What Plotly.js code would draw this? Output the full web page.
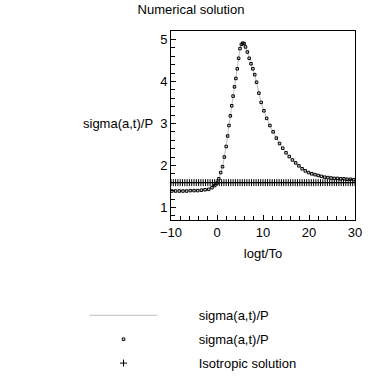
<!DOCTYPE html>
<html>
<head>
<meta charset="utf-8">
<script src="https://cdn.plot.ly/plotly-3.0.1.min.js"></script>
<style>html,body{margin:0;padding:0;background:#fff;}#chart{width:382px;height:382px;}</style>
</head>
<body>
<div id="chart"></div>
<script>
var sigmaX = [-9.8,-9.0,-8.2,-7.4,-6.6,-5.8,-5.0,-4.2,-3.4,-2.6,-1.8,-1.1,-0.5,0.0,0.4,0.8,1.2,1.6,2.0,2.3,2.6,2.9,3.2,3.5,3.8,4.1,4.4,4.7,5.0,5.3,5.6,5.9,6.2,6.6,7.0,7.4,7.8,8.2,8.6,9.1,9.6,10.2,10.8,11.5,12.2,12.9,13.6,14.3,15.0,15.7,16.4,17.1,17.8,18.5,19.2,19.9,20.6,21.3,22.0,22.7,23.4,24.1,24.8,25.5,26.2,26.9,27.6,28.3,29.0,29.7];
var sigmaY = [1.39,1.39,1.39,1.39,1.39,1.40,1.40,1.40,1.41,1.42,1.43,1.47,1.52,1.58,1.68,1.83,1.97,2.20,2.45,2.70,2.95,3.18,3.42,3.65,3.87,4.07,4.30,4.55,4.78,4.88,4.91,4.90,4.82,4.70,4.55,4.42,4.30,4.16,3.98,3.72,3.50,3.30,3.12,2.95,2.80,2.65,2.52,2.41,2.30,2.21,2.13,2.06,1.99,1.92,1.87,1.83,1.80,1.78,1.76,1.74,1.72,1.71,1.70,1.69,1.69,1.68,1.68,1.67,1.67,1.66];
var isoX = [-10,-9.5,-9,-8.5,-8,-7.5,-7,-6.5,-6,-5.5,-5,-4.5,-4,-3.5,-3,-2.5,-2,-1.5,-1,-0.5,0,0.5,1,1.5,2,2.5,3,3.5,4,4.5,5,5.5,6,6.5,7,7.5,8,8.5,9,9.5,10,10.5,11,11.5,12,12.5,13,13.5,14,14.5,15,15.5,16,16.5,17,17.5,18,18.5,19,19.5,20,20.5,21,21.5,22,22.5,23,23.5,24,24.5,25,25.5,26,26.5,27,27.5,28,28.5,29,29.5,30];
var isoValue = 1.59;
var isoY = isoX.map(function(){ return isoValue; });
var seriesNames = ['sigma(a,t)/P', 'sigma(a,t)/P', 'Isotropic solution'];
var titleText = 'Numerical solution';
var xTitle = 'logt/To';
var yTitle = 'sigma(a,t)/P';

var fontFam = 'Liberation Sans, Arial, sans-serif';
var pad = '\u00a0\u00a0\u00a0\u00a0\u00a0\u00a0\u00a0\u00a0\u00a0\u00a0';
var traces = [
  {x: sigmaX, y: sigmaY, mode: 'lines', name: pad + seriesNames[0], legendgroup: 'a',
   line: {color: '#c0c0c0', width: 1}},
  {x: sigmaX, y: sigmaY, mode: 'markers', name: pad + seriesNames[1], legendgroup: 'b',
   marker: {symbol: 'square-open', size: 2.5, color: '#000', line: {width: 1, color: '#000'}}},
  {x: isoX, y: isoY, mode: 'markers', name: pad + seriesNames[2], legendgroup: 'c',
   marker: {symbol: 'cross-thin-open', size: 5, color: '#000', line: {width: 1, color: '#000'}}}
];
var axisCommon = {
  showgrid: false, zeroline: false, showline: true, linecolor: '#000', linewidth: 1,
  mirror: true, ticks: 'inside', ticklen: 5, tickcolor: '#000', tickwidth: 1,
  tickfont: {family: fontFam, size: 13, color: '#000'}
};
var layout = {
  width: 382, height: 382,
  margin: {l: 171, r: 27, t: 31, b: 162, autoexpand: false},
  paper_bgcolor: '#fff', plot_bgcolor: '#fff',
  font: {family: fontFam, size: 13, color: '#000'},
  title: {text: titleText, x: 0.5, xanchor: 'center', y: 0.988, yanchor: 'top',
          font: {family: fontFam, size: 13, color: '#000'}},
  xaxis: Object.assign({}, axisCommon, {
    range: [-10, 30], dtick: 10, tick0: -10,
    minor: {dtick: 2, ticks: 'inside', ticklen: 4, tickcolor: '#000', showgrid: false},
    title: {text: xTitle, font: {family: fontFam, size: 13, color: '#000'}, standoff: 10}
  }),
  yaxis: Object.assign({}, axisCommon, {
    range: [0.7, 5.2], dtick: 1, tick0: 1,
    minor: {dtick: 0.2, ticks: 'inside', ticklen: 4, tickcolor: '#000', showgrid: false}
  }),
  annotations: [{
    text: yTitle, xref: 'paper', yref: 'y', x: -0.087, y: 3, xanchor: 'right', yanchor: 'middle',
    showarrow: false, font: {family: fontFam, size: 13, color: '#000'}
  }],
  showlegend: true,
  legend: {
    x: -0.47, xanchor: 'left', y: -0.425, yanchor: 'top',
    itemwidth: 68, tracegroupgap: 4,
    font: {family: fontFam, size: 13, color: '#000'},
    bgcolor: 'rgba(0,0,0,0)', itemclick: false
  }
};
Plotly.newPlot('chart', traces, layout, {staticPlot: true, displayModeBar: false});
</script>
</body>
</html>
